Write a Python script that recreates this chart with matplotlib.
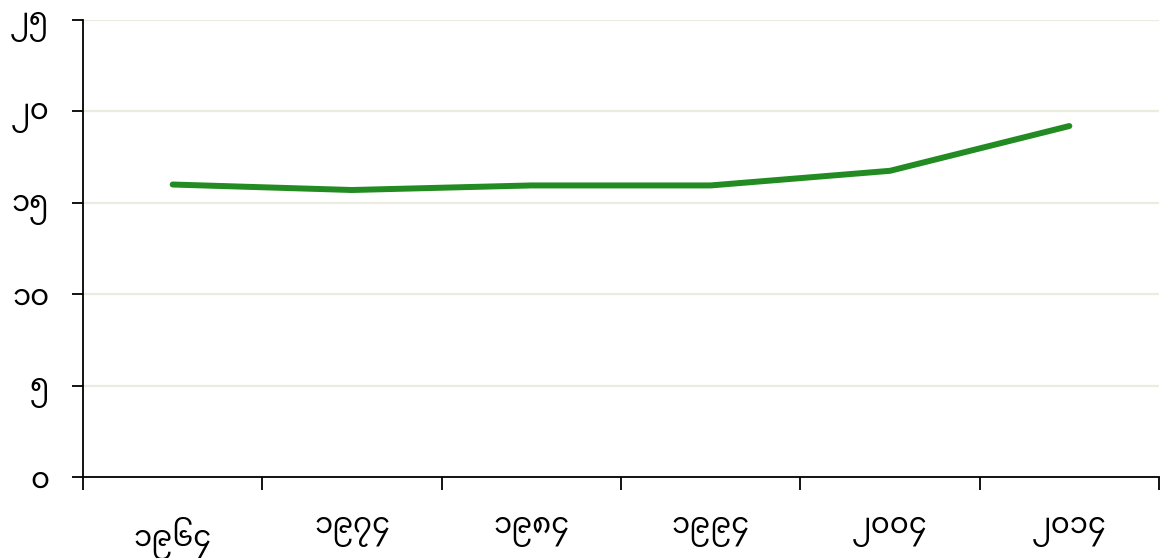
import matplotlib
matplotlib.use("Agg")
import matplotlib.pyplot as plt
import numpy as np

categories = ["၁၉၆၄", "၁၉၇၄", "၁၉၈၄", "၁၉၉၄", "၂၀၀၄", "၂၀၁၄"]
values = [16.0, 15.7, 15.95, 15.95, 16.75, 19.2]
y_ticks = [0, 5, 10, 15, 20, 25]
y_tick_labels = ["၀", "၅", "၁၀", "၁၅", "၂၀", "၂၅"]

plt.rcParams['font.family'] = ["Noto Sans Myanmar", "DejaVu Sans"]

fig = plt.figure(figsize=(11.62, 5.58), dpi=100)
ax = fig.add_axes([83/1162, 1-477/558, (1159-83)/1162, (477-20)/558])
x = np.arange(len(categories))
ax.plot(x, values, color="#228b22", linewidth=4.3, solid_capstyle="round", zorder=3)
ax.set_xlim(-0.5, len(categories)-0.5)
ax.set_ylim(0, 25)
ax.set_yticks(y_ticks)
ax.set_yticklabels(y_tick_labels, fontsize=21)
ax.set_xticks(np.arange(len(categories)+1)-0.5)
ax.set_xticklabels([])
ax.set_xticks(x, minor=True)
ax.set_xticklabels(categories, minor=True, fontsize=21)
ax.tick_params(axis="x", which="major", length=9, width=1.3, color="black")
ax.tick_params(axis="x", which="minor", length=0, pad=29)
ax.tick_params(axis="y", length=8, width=1.3, pad=16)
for s in ["top", "right"]:
    ax.spines[s].set_visible(False)
for s in ["left", "bottom"]:
    ax.spines[s].set_linewidth(1.3)
ax.grid(axis="y", color="#ebebe0", linewidth=1.6)
ax.set_axisbelow(True)
fig.savefig("out.png", dpi=100)
